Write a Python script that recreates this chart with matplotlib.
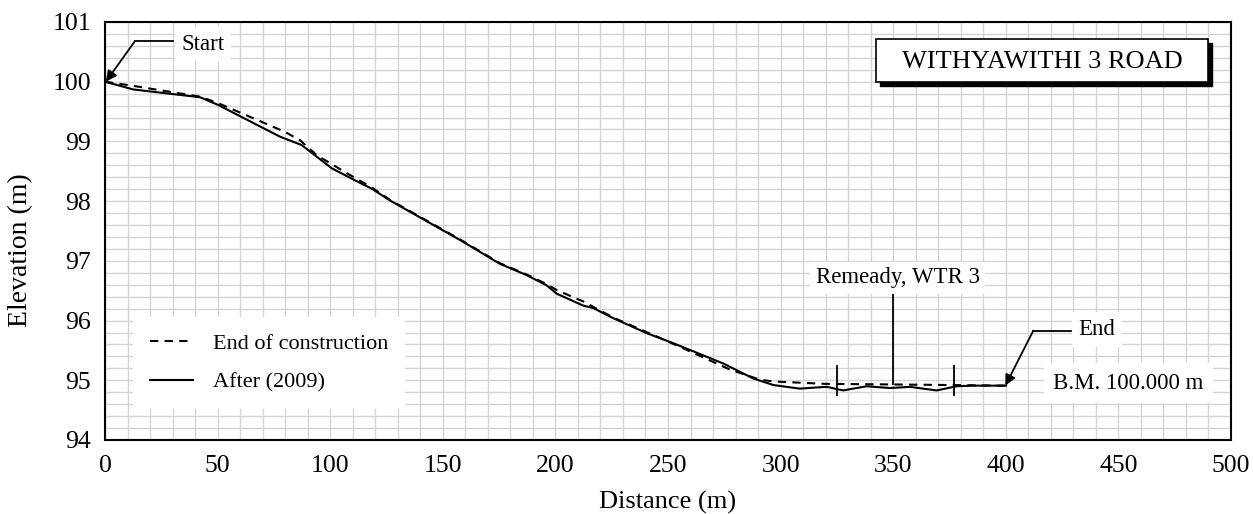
import matplotlib
matplotlib.use("Agg")
import matplotlib.pyplot as plt
from matplotlib.patches import Rectangle

plt.rcParams['font.family'] = ['Liberation Serif', 'DejaVu Serif']

# ---- data ----
after_x = [0, 12.6, 42.2, 50.3, 77.7, 87.3, 100.7, 112.5, 118.4, 126.6, 157.6, 166.5,
           175.4, 187.3, 196.1, 200.6, 212.4, 216.8, 225.7, 240.5, 252.4, 274.6, 287.9,
           296.8, 308.6, 316.0, 320.5, 327.8, 338.2, 348.6, 357.5, 369.3, 378.2, 385.0, 400.0]
after_y = [100.0, 99.87, 99.74, 99.61, 99.08, 98.94, 98.55, 98.32, 98.21, 98.01, 97.35, 97.15,
           96.95, 96.76, 96.59, 96.45, 96.25, 96.21, 96.04, 95.79, 95.62, 95.28, 95.03,
           94.92, 94.86, 94.88, 94.89, 94.83, 94.90, 94.87, 94.89, 94.83, 94.90, 94.91, 94.91]

end_x = [0, 12.6, 42.2, 50.3, 79.9, 86.6, 94.0, 107.3, 118.4, 126.6, 157.6, 166.5, 175.4,
         187.3, 196.1, 200.6, 212.4, 216.8, 225.7, 246.4, 255.3, 277.5, 290.8, 296.8, 320.0,
         350.0, 377.0, 400.0]
end_y = [100.0, 99.93, 99.75, 99.64, 99.16, 99.02, 98.77, 98.47, 98.23, 98.02, 97.36, 97.16,
         96.96, 96.77, 96.61, 96.51, 96.32, 96.23, 96.05, 95.71, 95.56, 95.18, 95.01, 94.98,
         94.94, 94.93, 94.92, 94.91]

x_ticks = [0, 50, 100, 150, 200, 250, 300, 350, 400, 450, 500]
y_ticks = [94, 95, 96, 97, 98, 99, 100, 101]

remedy_start, remedy_mid, remedy_end = 325, 350, 377

# ---- figure ----
W, H = 1253, 514
fig = plt.figure(figsize=(W / 100, H / 100), dpi=100)
L, R, T, B = 105, 1231, 22, 440
ax = fig.add_axes([L / W, 1 - B / H, (R - L) / W, (B - T) / H])

ax.set_xlim(0, 500)
ax.set_ylim(94, 101)
ax.set_xticks(x_ticks)
ax.set_yticks(y_ticks)
ax.set_xticks(range(0, 501, 10), minor=True)
ax.set_yticks([94 + 0.2 * i for i in range(36)], minor=True)
ax.grid(True, which='both', color='#d4d4d4', linewidth=1.0)
ax.set_axisbelow(True)
ax.tick_params(which='both', length=0, labelsize=18.5)
ax.tick_params(axis='x', pad=11)
ax.tick_params(axis='y', pad=10)
for s in ax.spines.values():
    s.set_linewidth(1.5)
    s.set_color('black')

ax.plot(end_x, end_y, color='black', linestyle=(0, (4, 3)), linewidth=1.5,
        label='End of construction', zorder=3)
ax.plot(after_x, after_y, color='black', linestyle='-', linewidth=1.5,
        label='After (2009)', zorder=3)

ax.set_xlabel('Distance (m)', fontsize=19, labelpad=10)
ax.set_ylabel('Elevation (m)', fontsize=20)
ax.yaxis.label.set_verticalalignment('center')
ax.yaxis.set_label_coords(-0.075, 0.455)

leg = ax.legend(loc='lower left', bbox_to_anchor=(0.025, 0.074), borderaxespad=0,
                frameon=True, fancybox=False, framealpha=1, edgecolor='white',
                facecolor='white', fontsize=16, handlelength=1.95, handletextpad=0.9,
                labelspacing=0.8, borderpad=0.75)
leg.get_frame().set_linewidth(0)

# remedy markers
for xm in (remedy_start, remedy_end):
    ax.plot([xm, xm], [94.75, 95.24], color='black', lw=1.3, zorder=4)
ax.plot([remedy_mid, remedy_mid], [94.93, 96.46], color='black', lw=1.3, zorder=4)
ax.text(352, 96.72, 'Remeady, WTR 3', fontsize=16.5, ha='center', va='center',
        bbox=dict(facecolor='white', edgecolor='none', pad=4), zorder=5)

# Start annotation
ax.plot([13.3, 30], [100.68, 100.68], color='black', lw=1.3, zorder=4)
ax.annotate('', xy=(0.4, 100.0), xytext=(13.3, 100.68),
            arrowprops=dict(arrowstyle='-|>', color='black', lw=1.3, mutation_scale=16,
                            shrinkA=0, shrinkB=0), zorder=4)
ax.text(43.5, 100.63, 'Start', fontsize=16.5, ha='center', va='center',
        bbox=dict(facecolor='white', edgecolor='none', pad=5), zorder=5)

# End annotation
ax.plot([412.2, 429], [95.83, 95.83], color='black', lw=1.3, zorder=4)
ax.annotate('', xy=(399.8, 94.91), xytext=(412.2, 95.83),
            arrowprops=dict(arrowstyle='-|>', color='black', lw=1.3, mutation_scale=16,
                            shrinkA=0, shrinkB=0), zorder=4)
ax.text(440.5, 95.85, 'End', fontsize=16.5, ha='center', va='center',
        bbox=dict(facecolor='white', edgecolor='none', pad=5), zorder=5)

ax.text(454.5, 94.95, 'B.M. 100.000 m', fontsize=16.5, ha='center', va='center',
        bbox=dict(facecolor='white', edgecolor='none', pad=7), zorder=5)

# title box with shadow
bx0, bx1, by0, by1 = 0.685, 0.980, 0.857, 0.960
dx, dy = 4 / (R - L), 4 / (B - T)
ax.add_patch(Rectangle((bx0 + dx, by0 - dy), bx1 - bx0, by1 - by0, transform=ax.transAxes,
                       facecolor='black', edgecolor='black', zorder=5))
ax.add_patch(Rectangle((bx0, by0), bx1 - bx0, by1 - by0, transform=ax.transAxes,
                       facecolor='white', edgecolor='black', lw=1.2, zorder=6))
ax.text((bx0 + bx1) / 2, (by0 + by1) / 2 - 0.005, 'WITHYAWITHI 3 ROAD', transform=ax.transAxes,
        fontsize=19, ha='center', va='center', zorder=7)

fig.savefig('out.png', dpi=100)
